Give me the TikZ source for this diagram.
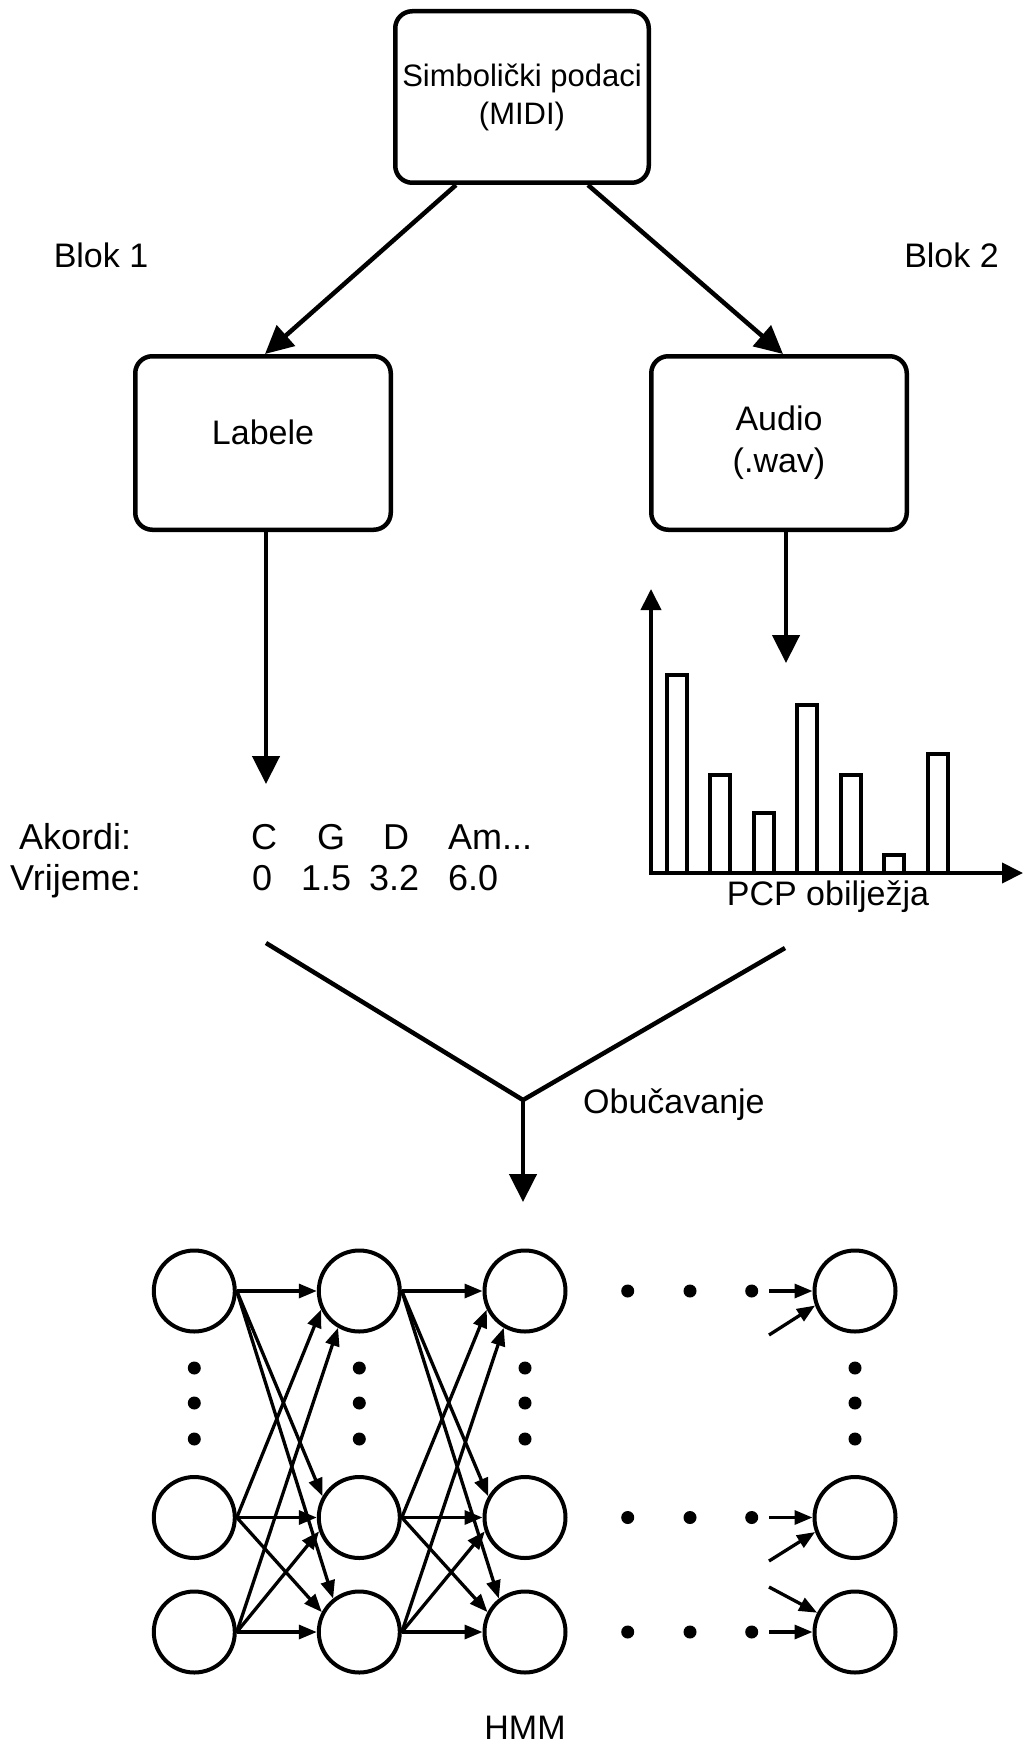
\documentclass[tikz,border=0pt]{standalone}
\usepackage{fontspec}
\setmainfont{Liberation Sans}
\usetikzlibrary{arrows.meta,calc}
\begin{document}
\begin{tikzpicture}[x=1pt,y=-1pt,
  box/.style={draw,line width=4.5pt,rounded corners=17pt,minimum width=255.5pt,minimum height=173.5pt,inner sep=0pt,align=center,font=\fontsize{34}{42}\selectfont},
  txt/.style={inner sep=0pt,font=\fontsize{34}{42}\selectfont},
  chord/.style={inner sep=0pt,anchor=base west,font=\fontsize{36}{42}\selectfont},
  big/.style={line width=4.5pt,-{Triangle[length=28pt,width=27pt]}},
  plain/.style={line width=4.5pt},
  st/.style={circle,draw,line width=4pt,minimum size=81pt,inner sep=0pt},
  tr/.style={line width=3.3pt,-{Triangle[length=18pt,width=14pt]}},
  axis/.style={line width=4pt,{Triangle[length=21pt,width=20pt]}-{Triangle[length=21pt,width=20pt]}},
  bar/.style={line width=4pt}
]
\fill[white] (0,0) rectangle (1027,1744);
\useasboundingbox (0,0) rectangle (1027,1744);

% top boxes
\node[box,minimum width=253.5pt,minimum height=171.5pt,font=\fontsize{31}{38}\selectfont] (top) at (522,97) {Simbolički podaci\\(MIDI)};
\node[box,text depth=21pt] (lab) at (263,443) {Labele};
\node[box] (aud) at (779,443) {Audio\\(.wav)};

\node[txt,anchor=base] (blok1) at (101,267) {Blok 1};
\node[txt,anchor=base] (blok2) at (951.5,267) {Blok 2};

\draw[big] ([xshift=-66pt]top.south) -- ([xshift=2pt]lab.north);
\draw[big] ([xshift=66pt]top.south) -- ([xshift=4pt]aud.north);

\coordinate (labend) at (266,784);
\draw[big] (lab.south -| labend) -- (labend);
\coordinate (audend) at (786,663);
\draw[big] (aud.south -| audend) -- (audend);

% bar chart
\coordinate (o) at (651,873);
\coordinate (ytip) at (651,589);
\coordinate (xtip) at (1023,873);
\draw[axis] (ytip) -- (o) -- (xtip);
\foreach \i/\h in {0/675,1/775,2/813,3/705,4/775,5/855,6/754}{
  \draw[bar] ({667+43.45*\i},873) |- ({687+43.45*\i},\h) -- ({687+43.45*\i},873);
}
\node[txt,anchor=base] (pcp) at (828,905) {PCP obilježja};

% chord labels
\node[chord] (akordi) at (19,849) {Akordi:};
\node[chord] (chC) at (251,849) {C};
\node[chord] (chG) at (317,849) {G};
\node[chord] (chD) at (383,849) {D};
\node[chord] (chAm) at (448,849) {Am...};
\node[chord] (vrijeme) at (10,890) {Vrijeme:};
\node[chord] (t0) at (252,890) {0};
\node[chord] (t1) at (301,890) {1.5};
\node[chord] (t2) at (369,890) {3.2};
\node[chord] (t3) at (448,890) {6.0};

% merge
\coordinate (vl) at (266,943);
\coordinate (vm) at (523,1100);
\coordinate (vr) at (785,948);
\coordinate (vend) at (523,1202);
\draw[plain] (vl) -- (vm) -- (vr);
\draw[big] (vm) -- (vend);
\node[txt,anchor=base west] (obu) at (583,1113) {Obučavanje};

% HMM
\foreach \c/\x in {a/194.3,b/359.3,c/525,d/855}{
  \node[st] (\c1) at (\x,1291) {};
  \node[st] (\c2) at (\x,1517.5) {};
  \node[st] (\c3) at (\x,1632) {};
  \foreach \y in {1368,1403,1439} \fill (\x,\y) circle[radius=6.5pt];
}
\foreach \y in {1291,1517.5,1632}{
  \foreach \x in {627.7,690,751.7} \fill (\x,\y) circle[radius=6.5pt];
}
\foreach \src/\dst in {a/b,b/c}{
  \draw[tr] (\src1.east) -- (\dst1.west);
  \draw[tr] (\src1.east) -- (\dst2.150);
  \draw[tr] (\src1.east) -- (\dst3.128);
  \draw[tr] (\src2.east) -- (\dst1.206);
  \draw[tr] (\src2.east) -- (\dst2.west);
  \draw[tr] (\src2.east) -- (\dst3.152);
  \draw[tr] (\src3.east) -- (\dst1.240);
  \draw[tr] (\src3.east) -- (\dst2.199);
  \draw[tr] (\src3.east) -- (\dst3.west);
}
\coordinate (e1) at (769,1291);
\coordinate (e1d) at (769,1335);
\coordinate (e2) at (769,1517.5);
\coordinate (e2d) at (769,1561);
\coordinate (e3u) at (769,1587);
\coordinate (e3) at (769,1632);
\draw[tr] (e1) -- (d1.west);
\draw[tr] (e1d) -- (d1.200);
\draw[tr] (e2) -- (d2.west);
\draw[tr] (e2d) -- (d2.200);
\draw[tr] (e3u) -- (d3.153);
\draw[tr] (e3) -- (d3.west);

\node[txt,anchor=base] (hmm) at (525,1739) {HMM};
\end{tikzpicture}
\end{document}
